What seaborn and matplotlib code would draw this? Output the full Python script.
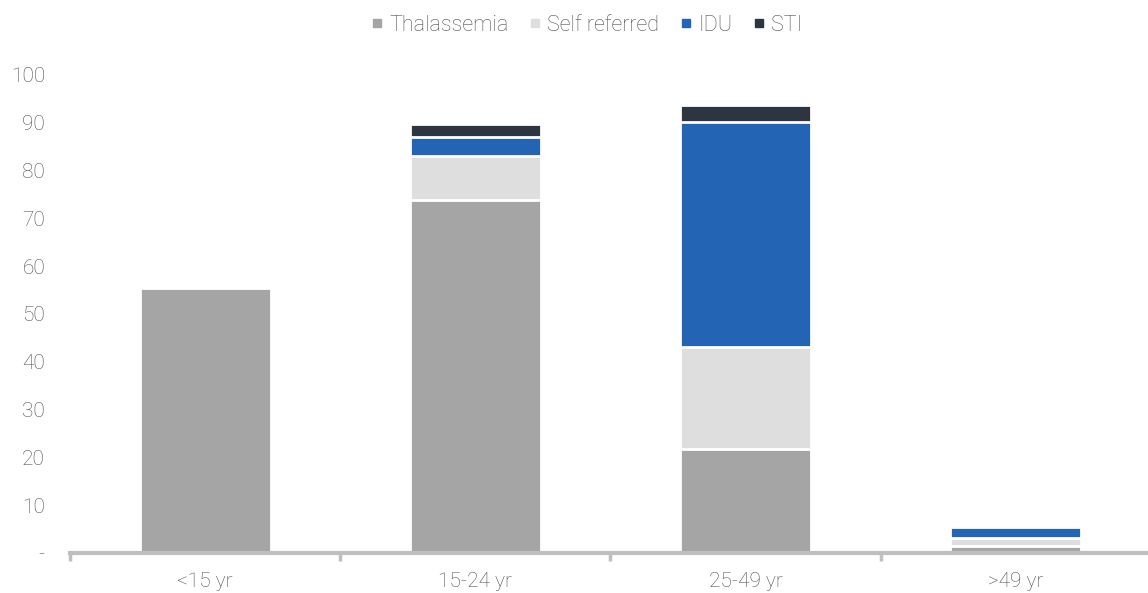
import pandas as pd
import numpy as np
import matplotlib.pyplot as plt
import seaborn as sns
from matplotlib.lines import Line2D

age_groups = ['<15 yr', '15-24 yr', '25-49 yr', '>49 yr']
thalassemia = [55.3, 73.9, 21.7, 1.4]
self_referred = [0, 9.1, 21.3, 1.7]
idu = [0, 4.0, 47.1, 2.3]
sti = [0, 2.6, 3.6, 0]

series = ['Thalassemia', 'Self referred', 'IDU', 'STI']
colors = ['#A5A5A5', '#DEDEDE', '#2364B4', '#2D3541']

df = pd.DataFrame({'group': age_groups, 'Thalassemia': thalassemia,
                   'Self referred': self_referred, 'IDU': idu, 'STI': sti})
cum = df[series].cumsum(axis=1)

sns.set_theme(style='white')
plt.rcParams['font.family'] = ['Roboto', 'DejaVu Sans']
plt.rcParams['font.weight'] = 'light'

fig = plt.figure(figsize=(11.48, 5.93), dpi=100)
ax = fig.add_axes([0.061, 0.0675, 0.939, 0.8065])

# draw cumulative totals back to front so the segments stack
for name, col in zip(series[::-1], colors[::-1]):
    sns.barplot(x=df['group'], y=cum[name], color=col, width=0.485,
                edgecolor='white', linewidth=2, saturation=1, ax=ax)

ax.set_ylim(0, 100)
ax.set_xlim(-0.5, 3.49)
ax.set_yticks(np.arange(0, 101, 10))
ax.set_yticklabels(['-'] + [str(v) for v in range(10, 101, 10)])
ax.set_xlabel('')
ax.set_ylabel('')
tc = '#505050'
ax.tick_params(axis='y', length=0, labelsize=15, labelcolor=tc, pad=18)
ax.tick_params(axis='x', which='major', length=0, labelsize=15, labelcolor=tc, pad=14)
ax.set_xticks([-0.5, 0.5, 1.5, 2.5], minor=True)
ax.tick_params(axis='x', which='minor', bottom=True, length=6, width=2.5, color='#BFBFBF')
for s in ['top', 'right', 'left']:
    ax.spines[s].set_visible(False)
ax.spines['bottom'].set_color('#BFBFBF')
ax.spines['bottom'].set_linewidth(3)

handles = [Line2D([], [], marker='s', linestyle='', color=c, markersize=6) for c in colors]
fig.legend(handles, series, loc='upper center', bbox_to_anchor=(0.511, 1.008), ncol=4,
           frameon=False, fontsize=15.5, labelcolor=tc, handlelength=0.6,
           handletextpad=0.25, columnspacing=0.95)

fig.savefig('out.png', dpi=100)
